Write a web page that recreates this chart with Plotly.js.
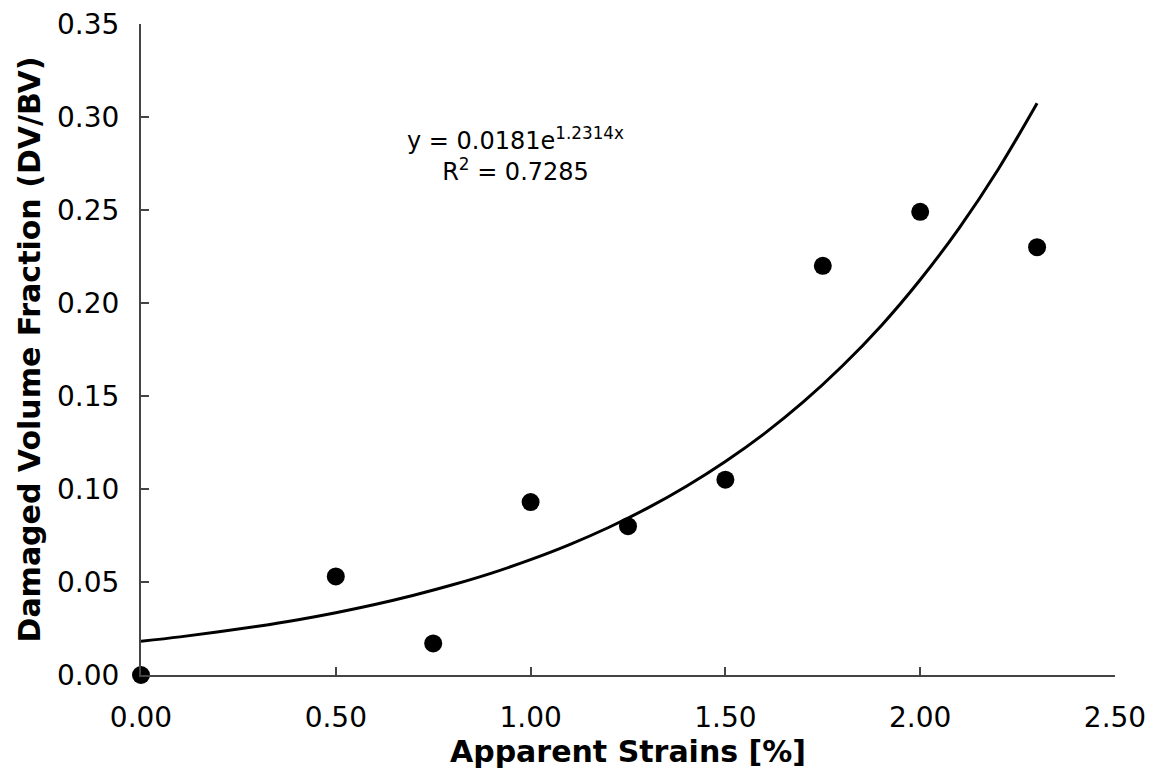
<!DOCTYPE html>
<html>
<head>
<meta charset="utf-8">
<script src="https://cdn.plot.ly/plotly-3.0.1.min.js"></script>
<style>html,body{margin:0;padding:0;background:#fff;}#chart{width:1160px;height:774px;}</style>
</head>
<body>
<div id="chart"></div>
<script>
// Measured data points
const strains = [0.00, 0.50, 0.75, 1.00, 1.25, 1.50, 1.75, 2.00, 2.30];
const damagedFraction = [0.000, 0.053, 0.017, 0.093, 0.080, 0.105, 0.220, 0.249, 0.230];

// Trendline (exponential fit) values
const trendX = [0.0, 0.1, 0.2, 0.3, 0.4, 0.5, 0.6, 0.7, 0.8, 0.9, 1.0, 1.1, 1.2, 1.3, 1.4, 1.5, 1.6, 1.7, 1.8, 1.9, 2.0, 2.1, 2.2, 2.3];
const trendY = [0.0181, 0.0205, 0.0232, 0.0262, 0.0296, 0.0335, 0.0379, 0.0429, 0.0485, 0.0548, 0.0620, 0.0701, 0.0793, 0.0897, 0.1015, 0.1148, 0.1298, 0.1468, 0.1661, 0.1878, 0.2125, 0.2403, 0.2718, 0.3074];

const xTickVals = [0, 0.5, 1.0, 1.5, 2.0, 2.5];
const xTickText = ['0.00', '0.50', '1.00', '1.50', '2.00', '2.50'];
const yTickVals = [0, 0.05, 0.10, 0.15, 0.20, 0.25, 0.30, 0.35];
const yTickText = ['0.00', '0.05', '0.10', '0.15', '0.20', '0.25', '0.30', '0.35'];

const fitLabel = 'y = 0.0181e<sup>1.2314x</sup><br>R<sup>2</sup> = 0.7285';

const FONT = 'Verdana, "DejaVu Sans", sans-serif';

const data = [
  {
    x: trendX, y: trendY, type: 'scatter', mode: 'lines',
    line: {color: '#000', width: 3, shape: 'spline'},
    hoverinfo: 'skip', showlegend: false
  },
  {
    x: strains, y: damagedFraction, type: 'scatter', mode: 'markers',
    marker: {color: '#000', size: 18, symbol: 'circle'},
    cliponaxis: false, showlegend: false
  }
];

const layout = {
  width: 1160, height: 774,
  margin: {l: 141, r: 45, t: 24, b: 99},
  paper_bgcolor: '#fff', plot_bgcolor: '#fff',
  font: {family: FONT, color: '#000'},
  showlegend: false,
  xaxis: {
    range: [0, 2.5], tickmode: 'array', tickvals: xTickVals, ticktext: xTickText,
    ticks: 'inside', ticklen: 8, tickwidth: 2, tickcolor: '#444',
    showline: true, linecolor: '#444', linewidth: 2,
    showgrid: false, zeroline: false,
    ticklabelstandoff: 16,
    tickfont: {size: 28, family: FONT, color: '#000'},
    title: {text: '<b>Apparent Strains [%]</b>', font: {size: 30, family: FONT, color: '#000'}, standoff: 8}
  },
  yaxis: {
    range: [0, 0.35], tickmode: 'array', tickvals: yTickVals, ticktext: yTickText,
    ticks: 'inside', ticklen: 8, tickwidth: 2, tickcolor: '#444',
    showline: true, linecolor: '#444', linewidth: 2,
    showgrid: false, zeroline: false,
    ticklabelstandoff: 14,
    tickfont: {size: 28, family: FONT, color: '#000'},
    title: {text: '<b>Damaged Volume Fraction (DV/BV)</b>', font: {size: 30, family: FONT, color: '#000'}, standoff: 8}
  },
  annotations: [
    {
      x: 0.96, y: 0.280, xref: 'x', yref: 'y',
      text: fitLabel, showarrow: false,
      font: {size: 24, family: FONT, color: '#000'},
      align: 'center'
    }
  ]
};

Plotly.newPlot('chart', data, layout, {displayModeBar: false, staticPlot: true});
</script>
</body>
</html>
